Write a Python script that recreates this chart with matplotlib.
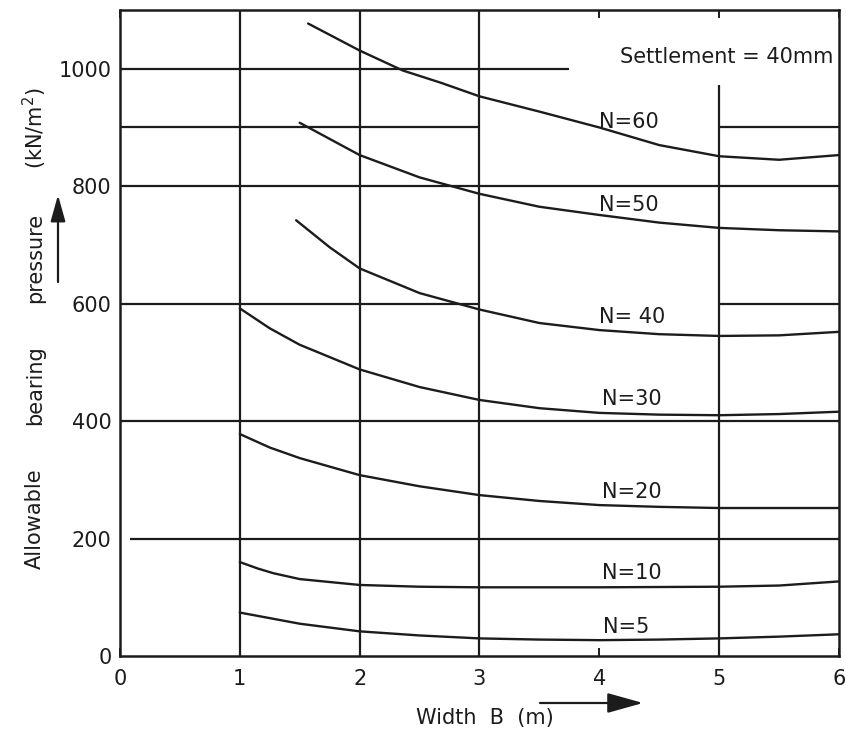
import matplotlib.pyplot as plt

# widths B (m) and allowable bearing pressure (kN/m2) for each SPT N value
B_60 = [1.57, 2.0, 2.36, 2.68, 3.0, 3.5, 4.0, 4.5, 5.0, 5.5, 6.0]
q_60 = [1077, 1031, 997, 976, 953, 927, 900, 870, 851, 845, 853]

B_50 = [1.5, 2.0, 2.5, 3.0, 3.5, 4.0, 4.5, 5.0, 5.5, 6.0]
q_50 = [908, 853, 815, 787, 765, 751, 738, 729, 725, 723]

B_40 = [1.47, 1.75, 2.0, 2.5, 3.0, 3.5, 4.0, 4.5, 5.0, 5.5, 6.0]
q_40 = [742, 696, 660, 618, 590, 567, 555, 548, 545, 546, 552]

B_30 = [1.0, 1.25, 1.5, 2.0, 2.5, 3.0, 3.5, 4.0, 4.5, 5.0, 5.5, 6.0]
q_30 = [592, 558, 530, 488, 458, 436, 422, 414, 411, 410, 412, 416]

B_20 = [1.0, 1.25, 1.5, 2.0, 2.5, 3.0, 3.5, 4.0, 4.5, 5.0, 5.5, 6.0]
q_20 = [378, 355, 337, 308, 289, 274, 264, 257, 254, 252, 252, 252]

B_10 = [1.0, 1.15, 1.28, 1.5, 2.0, 2.5, 3.0, 4.0, 5.0, 5.5, 6.0]
q_10 = [160, 149, 141, 131, 121, 118, 117, 117, 118, 120, 127]

B_5 = [1.0, 1.5, 2.0, 2.5, 3.0, 3.5, 4.0, 4.5, 5.0, 5.5, 6.0]
q_5 = [74, 55, 42, 35, 30, 28, 27, 28, 30, 33, 37]

curve_labels = ['N=60', 'N=50', 'N= 40', 'N=30', 'N=20', 'N=10', 'N=5']
label_x = [4.0, 4.0, 4.0, 4.02, 4.02, 4.02, 4.03]
label_y = [909, 768, 577, 438, 279, 141, 49]

# chart grid as printed (some lines are broken in the original)
h_lines = [(1000, 0, 3.75), (900, 0, 3), (900, 5, 6), (800, 0, 6),
           (600, 0, 3), (600, 5, 6), (400, 0, 6), (200, 0.08, 6)]
v_lines = [(1, 0, 1100), (2, 0, 1100), (3, 0, 1100), (5, 0, 972)]

ink = '#1c1c1c'
fig = plt.figure(figsize=(8.46, 7.47), dpi=100)
ax = fig.add_axes([0.1418, 0.1218, 0.8499, 0.8648])

for y, x0, x1 in h_lines:
    ax.hlines(y, x0, x1, color=ink, lw=1.6)
for x, y0, y1 in v_lines:
    ax.vlines(x, y0, y1, color=ink, lw=1.6)

for B, q in [(B_60, q_60), (B_50, q_50), (B_40, q_40), (B_30, q_30),
             (B_20, q_20), (B_10, q_10), (B_5, q_5)]:
    ax.plot(B, q, color=ink, lw=1.7, solid_capstyle='round',
            solid_joinstyle='round')

for txt, x, y in zip(curve_labels, label_x, label_y):
    ax.text(x, y, txt, fontsize=15, color=ink, va='center', ha='left')
ax.text(5.95, 1020, 'Settlement = 40mm', fontsize=15, color=ink,
        va='center', ha='right')

ax.set_xlim(0, 6)
ax.set_ylim(0, 1100)
ax.set_xticks([0, 1, 2, 3, 4, 5, 6])
ax.set_yticks([0, 200, 400, 600, 800, 1000])
ax.tick_params(axis='x', direction='in', length=6, width=1.4, top=True,
               pad=9, labelsize=15, colors=ink)
ax.tick_params(axis='y', direction='in', length=0, pad=6, labelsize=15,
               colors=ink)
for s in ax.spines.values():
    s.set_linewidth(1.8)
    s.set_color(ink)

# axis titles, spread out like the printed figure
fig.text(485 / 846, 1 - 718 / 747, 'Width  B  (m)', fontsize=15, color=ink,
         ha='center', va='center')
x_arrow = dict(arrowstyle='-|>,head_length=1.0,head_width=0.28',
               mutation_scale=22, lw=1.6, color=ink, shrinkA=0, shrinkB=0)
ax.annotate('', xy=(643 / 846, 1 - 703 / 747), xytext=(540 / 846, 1 - 703 / 747),
            xycoords='figure fraction', arrowprops=x_arrow,
            annotation_clip=False)

y_words = ['Allowable', 'bearing', 'pressure', '(kN/m$^2$)']
y_pos = [519, 385, 258, 128]
for w, py in zip(y_words, y_pos):
    fig.text(35 / 846, 1 - py / 747, w, fontsize=15, color=ink,
             rotation=90, ha='center', va='center')
y_arrow = dict(arrowstyle='-|>,head_length=1.0,head_width=0.28',
               mutation_scale=16, lw=1.6, color=ink, shrinkA=0, shrinkB=0)
ax.annotate('', xy=(58 / 846, 1 - 195 / 747), xytext=(58 / 846, 1 - 282 / 747),
            xycoords='figure fraction', arrowprops=y_arrow,
            annotation_clip=False)

fig.savefig('out.png', dpi=100)
